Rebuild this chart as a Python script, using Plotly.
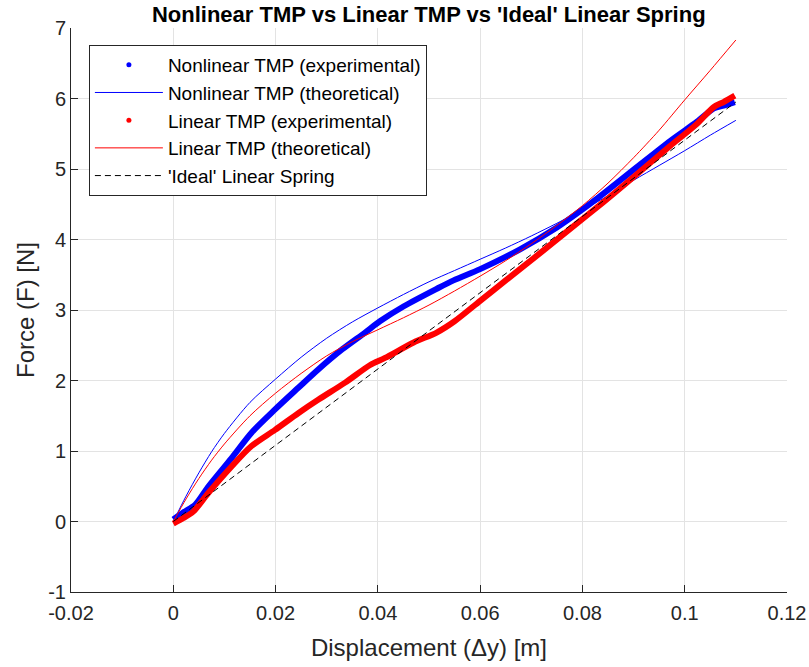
import plotly.graph_objects as go

# ---- data ----
nl_theo_x = [0, 0.0025, 0.005, 0.0075, 0.01, 0.015, 0.02, 0.025, 0.03, 0.035, 0.04, 0.045, 0.05,
             0.055, 0.06, 0.065, 0.07, 0.075, 0.08, 0.085, 0.09, 0.095, 0.1, 0.105, 0.11]
nl_theo_y = [0, 0.36, 0.69, 0.99, 1.25, 1.69, 2.02, 2.33, 2.60, 2.83, 3.03, 3.22, 3.40,
             3.56, 3.72, 3.88, 4.05, 4.23, 4.42, 4.62, 4.84, 5.05, 5.26, 5.48, 5.69]

lin_theo_x = nl_theo_x
lin_theo_y = [0, 0.32, 0.61, 0.87, 1.10, 1.50, 1.82, 2.10, 2.35, 2.55, 2.72, 2.89, 3.07,
              3.27, 3.48, 3.70, 3.94, 4.20, 4.48, 4.80, 5.16, 5.55, 5.98, 6.40, 6.83]

nl_exp_x = [0, 0.002, 0.0043, 0.0069, 0.0114, 0.0153, 0.0199, 0.0245, 0.0284, 0.033, 0.0375,
            0.0404, 0.045, 0.0515, 0.0548, 0.06, 0.0678, 0.075, 0.0801, 0.0841, 0.0907, 0.0972,
            0.1024, 0.1057, 0.1076, 0.1098]
nl_exp_y = [0.03, 0.13, 0.24, 0.50, 0.90, 1.26, 1.59, 1.90, 2.16, 2.44, 2.68,
            2.84, 3.05, 3.30, 3.42, 3.58, 3.86, 4.17, 4.43, 4.65, 5.03, 5.40,
            5.67, 5.86, 5.90, 5.95]

lin_exp_x = [0, 0.002, 0.0039, 0.0068, 0.0114, 0.0153, 0.0199, 0.0245, 0.0284, 0.0336, 0.0385,
             0.0414, 0.047, 0.0515, 0.055, 0.06, 0.065, 0.0711, 0.0776, 0.0841, 0.0907, 0.0972,
             0.1024, 0.1057, 0.1076, 0.1098]
lin_exp_y = [-0.03, 0.05, 0.14, 0.40, 0.78, 1.07, 1.30, 1.54, 1.73, 1.97, 2.22,
             2.32, 2.54, 2.68, 2.84, 3.13, 3.42, 3.77, 4.15, 4.53, 4.93, 5.33,
             5.64, 5.88, 5.95, 6.04]

ideal_x = [0, 0.11]
ideal_y = [0, 5.95]

x_ticks = [-0.02, 0, 0.02, 0.04, 0.06, 0.08, 0.1, 0.12]
x_tick_text = ["-0.02", "0", "0.02", "0.04", "0.06", "0.08", "0.1", "0.12"]
y_ticks = [-1, 0, 1, 2, 3, 4, 5, 6, 7]
y_tick_text = ["-1", "0", "1", "2", "3", "4", "5", "6", "7"]

BLUE = "#0000ff"
RED = "#ff0000"
FONT = "Liberation Sans, Arial, Helvetica, sans-serif"
AX = "#262626"

fig = go.Figure()

# Nonlinear experimental (dense dots -> thick band)
fig.add_trace(go.Scatter(x=nl_exp_x, y=nl_exp_y, mode="lines",
                         line=dict(color=BLUE, width=6, shape="spline", smoothing=0.8),
                         showlegend=False, hoverinfo="skip"))
fig.add_trace(go.Scatter(x=[None], y=[None], mode="markers", marker=dict(color=BLUE, size=5),
                         name="Nonlinear TMP (experimental)"))
fig.add_trace(go.Scatter(x=nl_theo_x, y=nl_theo_y, mode="lines",
                         line=dict(color=BLUE, width=1, shape="spline", smoothing=0.8),
                         name="Nonlinear TMP (theoretical)"))
# Linear experimental
fig.add_trace(go.Scatter(x=lin_exp_x, y=lin_exp_y, mode="lines",
                         line=dict(color=RED, width=6, shape="spline", smoothing=0.8),
                         showlegend=False, hoverinfo="skip"))
fig.add_trace(go.Scatter(x=[None], y=[None], mode="markers", marker=dict(color=RED, size=5),
                         name="Linear TMP (experimental)"))
fig.add_trace(go.Scatter(x=lin_theo_x, y=lin_theo_y, mode="lines",
                         line=dict(color=RED, width=1, shape="spline", smoothing=0.8),
                         name="Linear TMP (theoretical)"))
fig.add_trace(go.Scatter(x=ideal_x, y=ideal_y, mode="lines", line=dict(color="black", width=1, dash="6px,4px"),
                         name="'Ideal' Linear Spring"))

fig.update_layout(
    width=809, height=667,
    margin=dict(l=71, r=22, t=28, b=75, autoexpand=False),
    paper_bgcolor="white", plot_bgcolor="white",
    font=dict(family=FONT, color=AX, size=20),
    title=dict(text="<b>Nonlinear TMP vs Linear TMP vs 'Ideal' Linear Spring</b>",
               font=dict(family=FONT, size=22, color="black"),
               x=0.53, xanchor="center", yref="container", y=1 - 14 / 667, yanchor="middle"),
    legend=dict(x=0.025, y=0.97, xanchor="left", yanchor="top",
                bgcolor="white", bordercolor=AX, borderwidth=1,
                font=dict(family=FONT, size=19, color="black"),
                itemwidth=68, tracegroupgap=0),
    showlegend=True,
)

fig.update_xaxes(range=[-0.02, 0.12], tickvals=x_ticks, ticktext=x_tick_text, automargin=False,
                 showgrid=True, gridcolor="#e3e3e3", gridwidth=1, zeroline=False,
                 showline=True, linecolor=AX, linewidth=1, mirror=False,
                 ticks="inside", ticklen=7, tickcolor=AX, tickfont=dict(size=20, color=AX),
                 ticklabelstandoff=3,
                 title=dict(text="Displacement (\u0394y) [m]", font=dict(size=24, color=AX), standoff=16))
fig.update_yaxes(range=[-1, 7], tickvals=y_ticks, ticktext=y_tick_text, automargin=False,
                 showgrid=True, gridcolor="#e3e3e3", gridwidth=1, zeroline=False,
                 showline=True, linecolor=AX, linewidth=1, mirror=False,
                 ticks="inside", ticklen=7, tickcolor=AX, tickfont=dict(size=20, color=AX),
                 title=dict(text="Force (F) [N]", font=dict(size=24, color=AX), standoff=6))

fig.write_html("out.html")
